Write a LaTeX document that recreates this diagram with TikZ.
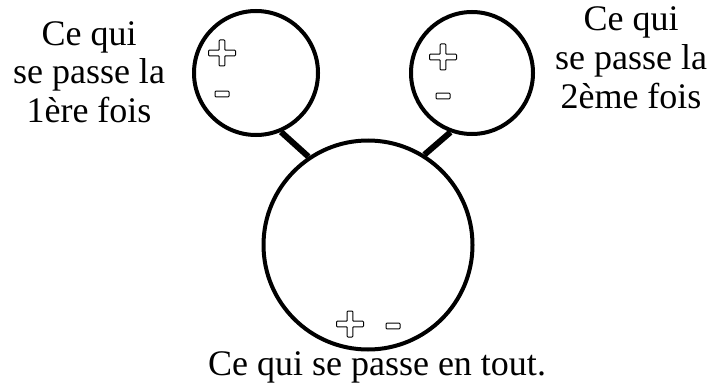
\documentclass[tikz,border=0pt]{standalone}
\usepackage{fontspec}
\setmainfont{Liberation Serif}
\usetikzlibrary{positioning}

\begin{document}
\begin{tikzpicture}[
    x=1pt, y=-1pt,
    ring/.style={draw, circle, line width=4pt, inner sep=0pt},
    stem/.style={line width=6pt},
    sign/.style={draw, line width=1pt, fill=white, rounded corners=0.8pt},
    txt/.style={font=\fontsize{36}{38.5}\selectfont, align=center, inner sep=0pt},
    plussign/.pic={\filldraw[sign] (-13.5,-2.8) -- (-2.8,-2.8) -- (-2.8,-13) -- (2.8,-13) -- (2.8,-2.8)
        -- (13.5,-2.8) -- (13.5,2.8) -- (2.8,2.8) -- (2.8,13) -- (-2.8,13) -- (-2.8,2.8) -- (-13.5,2.8) -- cycle;},
    minussign/.pic={\filldraw[sign] (-7,-2.8) rectangle (7,2.8);},
]
\useasboundingbox (0,0) rectangle (711,385);

% ---- Cercles ----
\node[ring, minimum size=124pt] (first) at (256,73) {};
\node[ring, minimum size=122pt] (second) at (472,73) {};
\node[ring, minimum size=209pt] (total) at (368,245) {};

% ---- Liaisons ----
\draw[stem] (first.-67) -- (total.124);
\draw[stem] (second.-110) -- (total.58);

% ---- Signes ----
\pic at (222,53) {plussign};
\pic at (222,94) {minussign};
\pic at (443,57) {plussign};
\pic at (443,96) {minussign};
\pic at (350,324) {plussign};
\pic at (393,326) {minussign};

% ---- Textes ----
\node[txt, anchor=base] (t1) at (89,122) {Ce qui\\se passe la\\1ère fois};
\node[txt, anchor=base] (t2) at (631,108) {Ce qui\\se passe la\\2ème fois};
\node[txt, anchor=base] (t3) at (377,375) {Ce qui se passe en tout.};

\end{tikzpicture}
\end{document}
